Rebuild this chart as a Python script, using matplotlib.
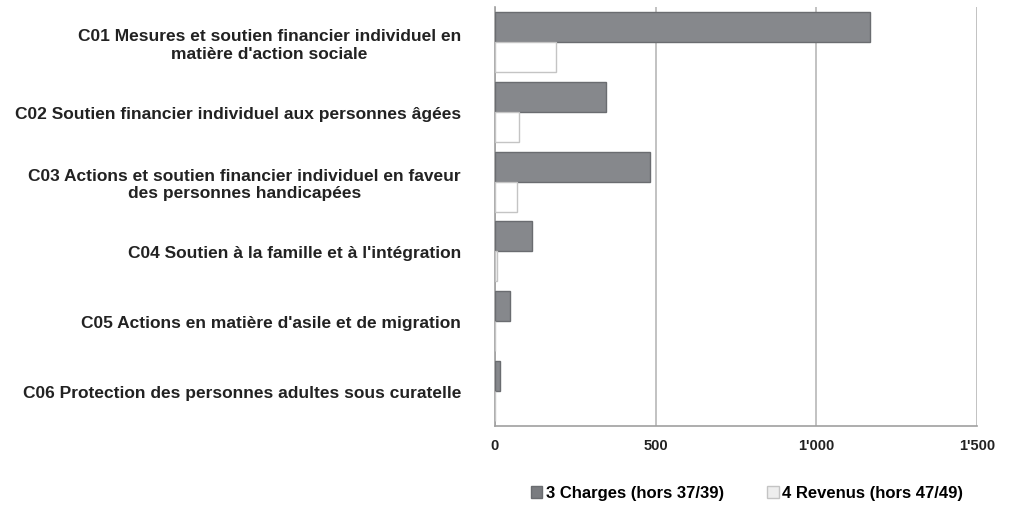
import matplotlib
matplotlib.use("Agg")
import matplotlib.pyplot as plt
import numpy as np

categories = [
    "C01 Mesures et soutien financier individuel en\nmatière d'action sociale",
    "C02 Soutien financier individuel aux personnes âgées",
    "C03 Actions et soutien financier individuel en faveur\ndes personnes handicapées",
    "C04 Soutien à la famille et à l'intégration",
    "C05 Actions en matière d'asile et de migration",
    "C06 Protection des personnes adultes sous curatelle",
]
charges = [1167, 345, 482, 116, 47, 16]
revenus = [190, 74, 68, 6, 0, 0]
series_labels = ["3 Charges (hors 37/39)", "4 Revenus (hors 47/49)"]
xticks = [0, 500, 1000, 1500]
xtick_labels = ["0", "500", "1'000", "1'500"]

plt.rcParams["font.family"] = ["Liberation Sans", "DejaVu Sans"]

fig = plt.figure(figsize=(10.2, 5.06), dpi=100)
ax = fig.add_axes([495 / 1020, 1 - 427 / 506, 482 / 1020, 419 / 506])

y = np.arange(len(categories))
h = 0.43
ax.barh(y - h / 2, charges, height=h, color="#86888c", edgecolor="#6a6c70",
        linewidth=1.0, label=series_labels[0], zorder=3)
ax.barh(y + h / 2, revenus, height=h, color="#ffffff", edgecolor="#c4c4c4",
        linewidth=1.0, label=series_labels[1], zorder=3)

ax.set_ylim(len(categories) - 0.5, -0.5)
ax.set_xlim(0, 1500)
ax.set_yticks(y)
ax.set_yticklabels(categories, fontsize=12.5, fontweight="bold",
                   color="#222222", multialignment="center")
ax.set_xticks(xticks)
ax.set_xticklabels(xtick_labels, fontsize=10.5, fontweight="bold", color="#222222")
ax.tick_params(axis="both", length=0)
ax.tick_params(axis="y", pad=24.5)
ax.tick_params(axis="x", pad=9)

ax.grid(axis="x", color="#b8b8b8", linewidth=1.2, zorder=0)
for s in ["top", "right"]:
    ax.spines[s].set_visible(False)
for s in ["left", "bottom"]:
    ax.spines[s].set_color("#a0a0a0")
    ax.spines[s].set_linewidth(1.2)

leg = ax.legend(loc="center", bbox_to_anchor=(747 / 1020, 1 - 494 / 506),
                bbox_transform=fig.transFigure, ncol=2, frameon=False,
                prop={"weight": "bold", "size": 12}, handlelength=0.7,
                handleheight=0.7, handletextpad=0.2, columnspacing=2.6)
leg.legend_handles[0].set_facecolor("#7a7c80")
leg.legend_handles[1].set_facecolor("#eeeeee")

fig.savefig("out.png", dpi=100)
